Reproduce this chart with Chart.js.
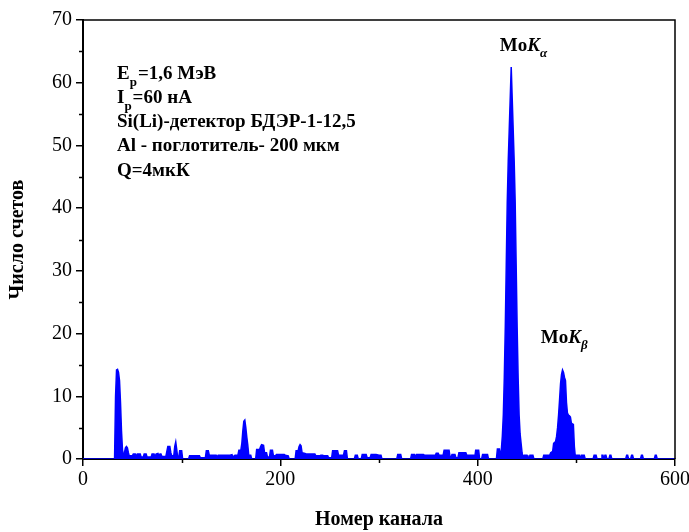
<!DOCTYPE html>
<html>
<head>
<meta charset="utf-8">
<script src="https://cdn.jsdelivr.net/npm/chart.js@4.4.1/dist/chart.umd.min.js"></script>
<style>
  html, body { margin: 0; padding: 0; background: #fff; }
  #wrap { width: 689px; height: 532px; position: relative; }
</style>
</head>
<body>
<div id="wrap"><canvas id="c" width="689" height="532"></canvas></div>
<script>
// ---- data (channel, counts) ----
const channels = [
  0, 32, 33, 34, 35, 36, 37, 38, 39, 40, 41, 42, 43, 44, 45, 46, 47, 48, 50, 51, 53, 54, 55, 58, 59, 61, 62, 64, 65, 69,
  70, 72, 73, 74, 76, 77, 78, 79, 80, 84, 85, 86, 88, 89, 90, 92, 93, 94, 95, 96, 97, 98, 100, 101, 107, 108, 118, 119, 124, 125,
  127, 128, 135, 136, 137, 149,
  151, 152, 154, 157, 158, 160, 161, 162, 163, 164, 165, 166, 167, 168, 170, 171, 175, 176, 179, 180, 181, 183, 184, 186,
  187, 189, 190, 192, 193, 195, 196, 204, 205, 208, 209, 215, 216, 218, 219, 220, 221, 222, 225, 226, 235, 236, 240, 241,
  243, 244, 248, 249, 252, 253, 258, 259, 264, 265, 267, 268, 275, 276, 278, 279, 282, 283, 287, 288, 291, 292, 296,
  297, 300, 302, 303, 318, 319, 322, 323, 332, 333, 336, 337, 338, 345, 346, 357, 358, 360, 361, 365, 366, 371, 372, 373,
  374, 377, 378, 380, 381, 388, 389, 396, 397, 398, 401, 402, 404, 405, 410, 411, 419, 420, 422, 423,
  424, 425, 426, 427, 428, 429, 430, 431, 432, 433, 434, 435, 436, 437, 438, 439, 440, 441, 442, 443, 444, 445, 446,
  447, 450, 451, 452, 453, 456, 457, 466, 467, 473, 474, 476, 477, 479, 480, 481, 482, 483, 484, 485, 486, 487, 488, 489,
  490, 491, 492, 493, 494, 495, 496, 497, 498, 499, 500, 503, 504, 505, 508, 509, 517, 518, 520, 521, 525, 526, 527, 528,
  529, 530, 531, 533, 534, 535, 536, 550, 551, 552, 553, 555, 556, 557, 558, 565, 566, 567, 568, 579, 580, 581, 582, 600
];
const counts = [
  0, 0, 10, 14.2, 14.3, 13.8, 12.5, 9, 4.5, 1.5, 0.5, 1, 1.8, 2.0, 1.8, 1.0, 0.4, 0.5, 0.5, 0.8, 0.8, 0.4, 0.8, 0.8, 0.3, 0.3, 0.8, 0.8, 0.3, 0.3,
  0.8, 0.8, 0.3, 0.8, 0.9, 0.4, 0.8, 0.8, 0.4, 0.4, 1.2, 2.0, 2.0, 1.0, 0.5, 0.5, 2.0, 2.7, 1.5, 0.2, 0.2, 1.3, 1.3, 0, 0, 0.5, 0.5, 0.2, 0.2, 1.3,
  1.3, 0.6, 0.6, 0.3, 0.6, 0.6,
  0.7, 0.3, 0.6, 0.6, 1.4, 1.4, 2.5, 4.5, 6.0, 6.2, 5, 3.5, 2.2, 0.6, 0.6, 0, 0, 1.5, 1.5, 2.0, 2.3, 2.2, 1.0, 1.0,
  0.3, 0.3, 1.4, 1.4, 0.5, 0.5, 0.7, 0.7, 0.6, 0.5, 0, 0, 1.3, 1.3, 2.0, 2.3, 2.1, 1.0, 0.9, 0.8, 0.8, 0.5, 0.5, 0.6,
  0.6, 0.5, 0.5, 0.2, 0.2, 1.3, 1.3, 0.6, 0.6, 1.3, 1.3, 0, 0, 0.6, 0.6, 0, 0, 0.7, 0.7, 0.2, 0.2, 0.7, 0.7,
  0.7, 0.6, 0.6, 0, 0, 0.7, 0.7, 0, 0, 0.7, 0.7, 0.3, 0.7, 0.7, 0.6, 0.6, 0.9, 0.9, 0.6, 0.6, 1.4, 1.4, 0.3, 0.3,
  0.7, 0.7, 0.2, 0.2, 1.0, 1.0, 0.6, 0.6, 0.2, 1.4, 1.4, 0, 0, 0.7, 0.7, 0, 0, 1.6, 1.6, 0.3,
  1.5, 3.6, 7, 13, 21, 31, 41, 47.5, 52.5, 57.5, 62.5, 57.5, 52.5, 47.5, 41, 31, 21, 13, 7, 4, 2.5, 1, 0,
  0.6, 0.6, 0, 0, 0.6, 0.6, 0, 0, 0.6, 0.6, 1.0, 1.2, 2.5, 2.8, 3.6, 5, 7, 9.4, 12, 13.5, 14.2, 13.8, 13, 12.5,
  9, 7.3, 7, 6.9, 6.7, 5.7, 5.6, 5.5, 2, 0.3, 0.6, 0.6, 0, 0.6, 0.6, 0, 0, 0.6, 0.6, 0, 0, 0.6, 0.6, 0,
  0.6, 0.6, 0, 0, 0.6, 0.6, 0, 0, 0.6, 0.6, 0, 0, 0.6, 0.6, 0, 0, 0.6, 0.6, 0, 0, 0.6, 0.6, 0, 0
];
const xTickValues = [0, 200, 400, 600];
const yTickValues = [0, 10, 20, 30, 40, 50, 60, 70];
const xMinorTicks = [100, 300, 500];
const yMinorTicks = [5, 15, 25, 35, 45, 55, 65];
const xTitle = 'Номер канала';
const yTitle = 'Число счетов';
// info block: each line as segments [text, isSubscript]
const infoLines = [
  [['E', false], ['p', true], ['=1,6 МэВ', false]],
  [['I', false], ['p', true], ['=60 нА', false]],
  [['Si(Li)-детектор БДЭР-1-12,5', false]],
  [['Al - поглотитель- 200 мкм', false]],
  [['Q=4мкК', false]]
];
// peak labels anchored in data coordinates (left edge, baseline)
const peakLabels = [
  { x: 422.5, y: 65.0, sub: 'α' },
  { x: 464, y: 18.5, sub: 'β' }
];

const SERIF = '"Liberation Serif", "DejaVu Serif", serif';

const data = channels.map((c, i) => ({ x: c, y: counts[i] }));

const extras = {
  id: 'extras',
  afterDraw(chart) {
    const ctx = chart.ctx;
    const a = chart.chartArea;
    const xs = chart.scales.x, ys = chart.scales.y;
    ctx.save();
    // frame top & right
    ctx.strokeStyle = '#000';
    ctx.lineWidth = 1.5;
    ctx.beginPath();
    ctx.moveTo(a.left, a.top); ctx.lineTo(a.right, a.top); ctx.lineTo(a.right, a.bottom);
    ctx.stroke();
    // minor ticks
    ctx.lineWidth = 1.5;
    ctx.beginPath();
    yMinorTicks.forEach(v => { const y = Math.round(ys.getPixelForValue(v)) + 0.5; ctx.moveTo(a.left, y); ctx.lineTo(a.left - 4, y); });
    xMinorTicks.forEach(v => { const x = Math.round(xs.getPixelForValue(v)) + 0.5; ctx.moveTo(x, a.bottom); ctx.lineTo(x, a.bottom + 4); });
    ctx.stroke();
    // info text
    ctx.fillStyle = '#000';
    ctx.textBaseline = 'alphabetic';
    const x0 = 117;
    infoLines.forEach((segs, i) => {
      let x = x0;
      const y = 78.5 + i * 24.3;
      segs.forEach(([t, sub]) => {
        ctx.font = sub ? 'bold 13px ' + SERIF : 'bold 19px ' + SERIF;
        ctx.fillText(t, x, sub ? y + 7 : y);
        x += ctx.measureText(t).width + (sub ? 1 : 0);
      });
    });
    // peak labels
    peakLabels.forEach(p => {
      let x = xs.getPixelForValue(p.x);
      const py = ys.getPixelForValue(p.y);
      ctx.font = 'bold 19px ' + SERIF;
      ctx.fillText('Mo', x, py); x += ctx.measureText('Mo').width;
      ctx.font = 'italic bold 19px ' + SERIF;
      ctx.fillText('K', x, py); x += ctx.measureText('K').width;
      ctx.font = 'italic bold 13px ' + SERIF;
      ctx.fillText(p.sub, x, py + 6);
    });
    ctx.restore();
  }
};

new Chart(document.getElementById('c'), {
  type: 'line',
  data: {
    datasets: [{
      data: data,
      borderColor: '#0000ff',
      backgroundColor: '#0000ff',
      borderWidth: 1.5,
      fill: 'origin',
      pointRadius: 0,
      tension: 0
    }]
  },
  options: {
    responsive: false,
    animation: false,
    devicePixelRatio: 1,
    layout: { padding: { left: 0, top: 20, right: 14, bottom: 0 } },
    plugins: { legend: { display: false }, tooltip: { enabled: false } },
    scales: {
      x: {
        type: 'linear', min: 0, max: 600,
        afterFit(s) { s.height = 73; s.paddingLeft = 0; s.paddingRight = 0; },
        afterBuildTicks(s) { s.ticks = xTickValues.map(v => ({ value: v })); },
        grid: { drawOnChartArea: false, drawTicks: true, tickLength: 7, color: '#000', lineWidth: 1.5 },
        border: { color: '#000', width: 2 },
        ticks: { color: '#000', padding: 2, maxRotation: 0, font: { family: SERIF, size: 20 } },
        title: { display: true, text: xTitle, color: '#000', padding: { top: 0, bottom: 0 }, font: { family: SERIF, size: 20, weight: 'bold' } }
      },
      y: {
        type: 'linear', min: 0, max: 70,
        afterFit(s) { s.width = 83; s.paddingTop = 0; s.paddingBottom = 0; },
        afterBuildTicks(s) { s.ticks = yTickValues.map(v => ({ value: v })); },
        grid: { drawOnChartArea: false, drawTicks: true, tickLength: 7, color: '#000', lineWidth: 1.5 },
        border: { color: '#000', width: 2 },
        ticks: { color: '#000', padding: 4, font: { family: SERIF, size: 20 } },
        title: { display: true, text: yTitle, color: '#000', padding: { top: 6, bottom: 0 }, font: { family: SERIF, size: 20, weight: 'bold' } }
      }
    }
  },
  plugins: [extras]
});
</script>
</body>
</html>
